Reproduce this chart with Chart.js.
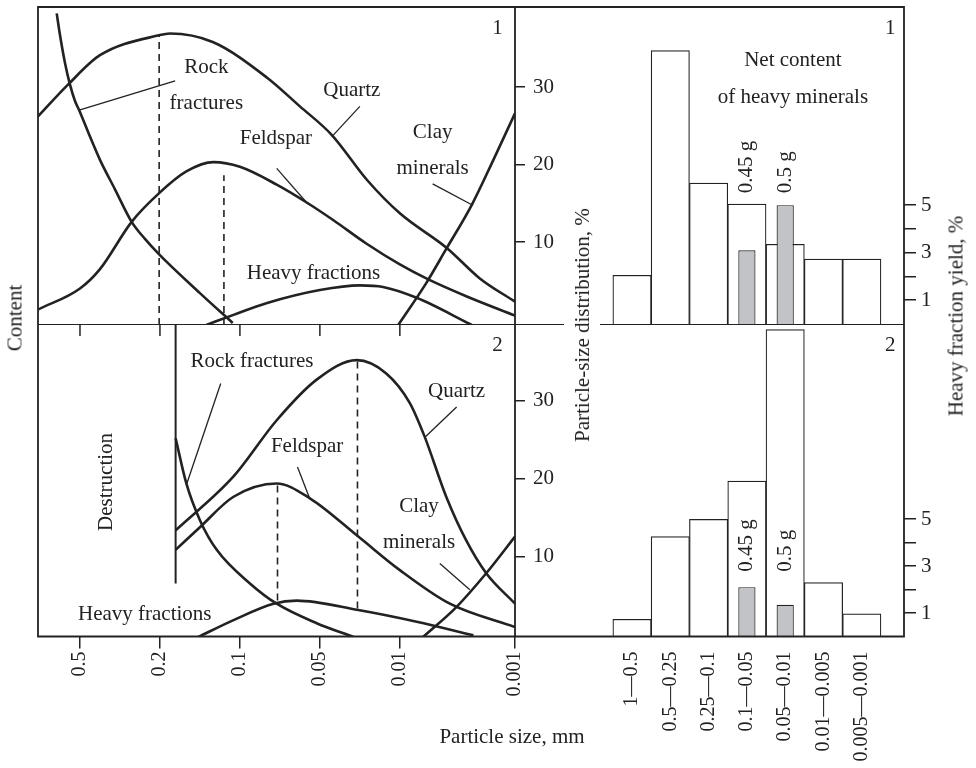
<!DOCTYPE html>
<html>
<head>
<meta charset="utf-8">
<script src="https://cdn.jsdelivr.net/npm/chart.js@4.4.1/dist/chart.umd.min.js"></script>
<style>
  body { margin: 0; background: #fff; }
  #fig { position: relative; width: 976px; height: 768px; overflow: hidden;
         font-family: "Liberation Serif", "Times New Roman", serif; color: #222; }
  canvas { position: absolute; }
  .lbl { position: absolute; white-space: nowrap; font-size: 21px; transform: translate(-50%, -50%); }
  .rot { transform: translate(-50%, -50%) rotate(-90deg); }
</style>
</head>
<body>
<div id="fig">
  <canvas id="tl" width="600" height="325" style="left:0;top:0"></canvas>
  <canvas id="bl" width="600" height="443" style="left:0;top:325px"></canvas>
  <canvas id="tr" width="461" height="325" style="left:515px;top:0"></canvas>
  <canvas id="br" width="461" height="443" style="left:515px;top:325px"></canvas>
  <div class="lbl rot" style="left:15px;top:318px">Content</div>
  <div class="lbl rot" style="left:582px;top:325px;background:#fff;line-height:36px">Particle-size distribution, %</div>
  <div class="lbl rot" style="left:956px;top:316px">Heavy fraction yield, %</div>
  <div class="lbl" style="left:512px;top:736px">Particle size, mm</div>
</div>
<script>
const ink = '#222';
const gray = '#c2c3c6';
Chart.defaults.font.family = '"Liberation Serif", "Times New Roman", serif';
Chart.defaults.font.size = 21;
Chart.defaults.color = ink;

// size axis of the curve panels: ticks are evenly spaced slots in the original
const sizeTickPos = [1, 2, 3, 4, 5, 6.44];
const sizeTickLabels = ['0.5', '0.2', '0.1', '0.05', '0.01', '0.001'];
const pctTicks = [10, 20, 30];
const yieldTicks = [1, 2, 3, 4, 5];

// panel 1 curves, [size slot, content]
const quartz1 = [[0.475, 26.2], [0.85, 30.3], [1.25, 34.1], [2.0, 36.7], [2.125, 36.9], [2.66, 35.8],
  [3.34, 31.2], [3.75, 27.5], [4.15, 23.8], [4.59, 18.0], [5.0, 13.7], [5.59, 9.2], [6.0, 5.3], [6.44, 2.3]];
const feldspar1 = [[0.479, 1.3], [1.0, 4.0], [1.25, 6.5], [1.646, 12.6], [1.99, 16.3], [2.33, 19.1],
  [2.67, 20.3], [3.0, 19.7], [3.46, 17.4], [3.85, 15.0], [4.17, 12.8], [4.58, 9.8], [5.0, 7.1],
  [5.33, 5.3], [5.83, 3.0], [6.44, 0.5]];
const rock1 = [[0.709, 39.5], [0.75, 36.7], [0.8125, 33.1], [0.875, 30.3], [0.9375, 28.2], [0.99, 27.0],
  [1.125, 23.6], [1.25, 20.6], [1.4375, 16.8], [1.646, 12.6], [1.8125, 10.4], [1.99, 8.4],
  [2.5, 3.4], [2.91, -0.45]];
const heavy1 = [[2.58, -0.7], [2.92, 0.6], [3.33, 2.1], [4.0, 3.8], [4.5, 4.4], [4.79, 4.2],
  [5.21, 2.8], [5.9, -0.7]];
const clay1 = [[4.98, -0.7], [5.33, 4.7], [5.58, 9.1], [5.9, 14.8], [6.17, 20.6], [6.44, 26.6]];
const modes1 = [[[1.99, -0.71], [1.99, 36.6]], [[2.8, -0.71], [2.8, 18.6]]];

// panel 2 curves
const quartz2 = [[2.196, 13.4], [2.92, 20.3], [3.46, 27.5], [3.96, 32.7], [4.46, 35.2], [4.83, 33.5],
  [5.125, 29.7], [5.31, 25.4], [5.58, 17.7], [5.83, 12.1], [6.08, 7.9], [6.44, 4.0]];
const feldspar2 = [[2.196, 10.9], [2.5, 13.8], [2.92, 17.7], [3.46, 19.4], [3.875, 17.5], [4.48, 12.6],
  [5.0, 8.3], [5.625, 4.0], [6.44, 1.0]];
const rock2 = [[2.196, 25.2], [2.33, 19.4], [2.5, 14.7], [2.71, 10.9], [3.125, 6.6], [3.46, 4.0],
  [3.96, 1.5], [4.42, -0.26]];
const heavy2 = [[2.48, -0.26], [2.92, 1.9], [3.42, 4.0], [3.71, 4.4], [4.48, 3.2], [5.21, 1.7], [5.92, -0.04]];
const clay2 = [[5.29, -0.26], [5.71, 3.6], [6.08, 7.9], [6.44, 12.6]];
const modes2 = [[[3.47, 4.4], [3.47, 19.2]], [[4.47, 3.4], [4.47, 35.0]]];
const destruction2 = [[2.196, 39.7], [2.196, 6.6]];

// histograms
const sizeBins = ['1—0.5', '0.5—0.25', '0.25—0.1', '0.1—0.05', '0.05—0.01', '0.01—0.005', '0.005—0.001'];
const dist1 = [5.7, 34.7, 17.6, 14.9, 9.7, 7.8, 7.8];
const yield1 = [null, null, null, 3.1, 5.0, null, null];
const dist2 = [2.0, 12.6, 14.8, 19.7, 39.1, 6.7, 2.7];
const yield2 = [null, null, null, 2.1, 1.35, null, null];
const massLabels = ['0.45 g', '0.5 g'];

// label leaders, in data units
const leaders1 = [[[0.99, 27.0], [2.19, 30.8]], [[4.5, 27.5], [4.15, 23.6]],
  [[3.46, 19.5], [3.85, 14.9]], [[5.41, 17.5], [5.9, 14.8]]];
const leaders2 = [[[2.76, 32.2], [2.33, 19.2]], [[5.71, 29.2], [5.31, 25.3]],
  [[3.72, 21.5], [3.875, 17.4]], [[5.5, 9.15], [5.875, 5.8]]];

function curve(points) {
  return { data: points, borderColor: ink, borderWidth: 2.6, pointRadius: 0,
           cubicInterpolationMode: 'monotone', fill: false };
}
function straight(points, dash, width) {
  return { data: points, borderColor: ink, borderWidth: width || 1.3, pointRadius: 0,
           tension: 0, borderDash: dash || [], fill: false };
}
function bars(values, axis, color, pct, base, order) {
  return {
    data: values.map((v, i) => ({ x: i + 1, y: v })).filter(p => p.y !== null),
    yAxisID: axis, backgroundColor: color, borderColor: ink, borderWidth: 1.2,
    barPercentage: pct, categoryPercentage: 1, grouped: false, base: base, order: order
  };
}

function frame(sides) {
  return {
    id: 'frame',
    afterDraw(chart) {
      const { ctx, chartArea: a } = chart;
      ctx.save();
      ctx.strokeStyle = ink;
      ctx.lineWidth = 1.8;
      ctx.lineCap = 'square';
      ctx.beginPath();
      if (sides.includes('top')) { ctx.moveTo(a.left, a.top); ctx.lineTo(a.right, a.top); }
      if (sides.includes('bottom')) { ctx.moveTo(a.left, a.bottom); ctx.lineTo(a.right, a.bottom); }
      if (sides.includes('left')) { ctx.moveTo(a.left, a.top); ctx.lineTo(a.left, a.bottom); }
      if (sides.includes('right')) { ctx.moveTo(a.right, a.top); ctx.lineTo(a.right, a.bottom); }
      ctx.stroke();
      ctx.restore();
    }
  };
}

function notes(items) {
  return {
    id: 'notes',
    afterDatasetsDraw(chart) {
      const ctx = chart.ctx;
      items.forEach(n => {
        const px = chart.scales[n.xAxis || 'x'].getPixelForValue(n.x);
        const py = chart.scales[n.yAxis || 'y'].getPixelForValue(n.y);
        ctx.save();
        ctx.font = '21px "Liberation Serif", "Times New Roman", serif';
        ctx.fillStyle = ink;
        ctx.translate(px, py);
        if (n.rotate) ctx.rotate(-Math.PI / 2);
        ctx.textAlign = n.align || 'center';
        ctx.textBaseline = 'middle';
        ctx.fillText(n.text, 0, 0);
        ctx.restore();
      });
    }
  };
}

// ticks of panel 2 that point down from the divider
const innerTicks = {
  id: 'innerTicks',
  afterDraw(chart) {
    const { ctx, chartArea: a, scales: { x } } = chart;
    ctx.save();
    ctx.strokeStyle = ink;
    ctx.lineWidth = 1.5;
    sizeTickPos.slice(0, 5).forEach(v => {
      const px = x.getPixelForValue(v);
      ctx.beginPath();
      ctx.moveTo(px, a.top);
      ctx.lineTo(px, a.top + 11);
      ctx.stroke();
    });
    ctx.restore();
  }
};

function pctAxis(min, max) {
  return {
    type: 'linear', position: 'right', min: min, max: max,
    afterBuildTicks: s => { s.ticks = pctTicks.map(v => ({ value: v })); },
    afterFit: s => { s.width = 85; s.paddingTop = 0; s.paddingBottom = 0; },
    grid: { drawOnChartArea: false, drawTicks: true, tickLength: 10, color: ink, lineWidth: 1.5 },
    border: { display: false },
    ticks: { color: ink, padding: 8, font: { size: 21 } }
  };
}
function yieldAxis(min, max) {
  return {
    type: 'linear', position: 'right', min: min, max: max,
    afterBuildTicks: s => { s.ticks = yieldTicks.map(v => ({ value: v })); },
    afterFit: s => { s.width = 72; s.paddingTop = 0; s.paddingBottom = 0; },
    grid: { drawOnChartArea: false, drawTicks: true, tickLength: 12, color: ink, lineWidth: 1.5 },
    border: { display: false },
    ticks: { color: ink, padding: 5, font: { size: 21 }, callback: v => (v % 2 ? String(v) : '') }
  };
}
function binAxis(visible) {
  const ax = {
    type: 'linear', offset: false, min: -2.055, max: 8.102, display: visible,
    afterBuildTicks: s => { s.ticks = sizeBins.map((b, i) => ({ value: i + 1 })); }
  };
  if (visible) {
    ax.afterFit = s => { s.height = 131.5; s.paddingLeft = 0; s.paddingRight = 0; };
    ax.grid = { display: false, drawTicks: false };
    ax.border = { display: false };
    ax.ticks = { autoSkip: false, minRotation: 90, maxRotation: 90, padding: 15,
                 font: { size: 20 }, color: ink, callback: (v, i) => sizeBins[i] };
  }
  return ax;
}

const common = {
  responsive: false, animation: false, events: [],
  plugins: { legend: { display: false }, tooltip: { enabled: false } }
};

// panel 1, curves
new Chart(document.getElementById('tl'), {
  type: 'line',
  data: { datasets: [
    curve(quartz1), curve(feldspar1), curve(rock1), curve(heavy1), curve(clay1),
    ...modes1.map(m => straight(m, [7, 5], 1.6)),
    ...leaders1.map(l => straight(l))
  ] },
  options: Object.assign({}, common, {
    layout: { padding: { left: 38, top: 7, right: 0, bottom: 0 } },
    scales: {
      x: { type: 'linear', display: false, min: 0.475, max: 6.44 },
      y: pctAxis(-0.71, 40.32)
    }
  }),
  plugins: [frame(['top', 'bottom', 'left', 'right']), notes([
    { text: '1', x: 6.22, y: 37.6 },
    { text: 'Rock', x: 2.58, y: 32.5 },
    { text: 'fractures', x: 2.58, y: 27.9 },
    { text: 'Quartz', x: 4.4, y: 29.6 },
    { text: 'Feldspar', x: 3.45, y: 23.3 },
    { text: 'Clay', x: 5.41, y: 24.1 },
    { text: 'minerals', x: 5.41, y: 19.5 },
    { text: 'Heavy fractions', x: 3.92, y: 6.0 }
  ])]
});

// panel 2, curves
new Chart(document.getElementById('bl'), {
  type: 'line',
  data: { datasets: [
    curve(quartz2), curve(feldspar2), curve(rock2), curve(heavy2), curve(clay2),
    straight(destruction2, [], 2),
    ...modes2.map(m => straight(m, [7, 5], 1.6)),
    ...leaders2.map(l => straight(l))
  ] },
  options: Object.assign({}, common, {
    layout: { padding: { left: 38, top: 0, right: 0, bottom: 0 } },
    scales: {
      x: {
        type: 'linear', min: 0.475, max: 6.44,
        afterBuildTicks: s => { s.ticks = sizeTickPos.map(v => ({ value: v })); },
        afterFit: s => { s.height = 131.5; s.paddingLeft = 0; s.paddingRight = 0; },
        grid: { drawOnChartArea: false, tickLength: 12, color: ink, lineWidth: 1.5 },
        border: { display: false },
        ticks: { autoSkip: false, minRotation: 90, maxRotation: 90, padding: 3,
                 font: { size: 20 }, color: ink, callback: (v, i) => sizeTickLabels[i] }
      },
      y: pctAxis(-0.2, 39.7)
    }
  }),
  plugins: [frame(['bottom', 'left', 'right']), innerTicks, notes([
    { text: '2', x: 6.22, y: 37.1 },
    { text: 'Rock fractures', x: 3.15, y: 35.0 },
    { text: 'Quartz', x: 5.71, y: 31.2 },
    { text: 'Feldspar', x: 3.84, y: 24.1 },
    { text: 'Clay', x: 5.24, y: 16.4 },
    { text: 'minerals', x: 5.24, y: 11.8 },
    { text: 'Heavy fractions', x: 1.81, y: 2.65 },
    { text: 'Destruction', x: 1.33, y: 19.6, rotate: true }
  ])]
});

// panel 1, histogram
new Chart(document.getElementById('tr'), {
  type: 'bar',
  data: { datasets: [
    bars(yield1, 'yh', gray, 0.45, -0.055, 0),
    bars(dist1, 'yp', '#fff', 1, -0.71, 1)
  ] },
  options: Object.assign({}, common, {
    layout: { padding: { left: 0, top: 7, right: 0, bottom: 0 } },
    scales: {
      x: binAxis(false),
      yp: { type: 'linear', display: false, min: -0.71, max: 40.32 },
      yh: yieldAxis(-0.055, 13.36)
    }
  }),
  plugins: [frame(['top', 'bottom', 'right']), notes([
    { text: '1', x: 7.74, y: 37.6, yAxis: 'yp' },
    { text: 'Net content', x: 5.2, y: 33.4, yAxis: 'yp' },
    { text: 'of heavy minerals', x: 5.2, y: 28.6, yAxis: 'yp' },
    { text: massLabels[0], x: 4, y: 5.5, yAxis: 'yh', rotate: true, align: 'left' },
    { text: massLabels[1], x: 5, y: 5.5, yAxis: 'yh', rotate: true, align: 'left' }
  ])]
});

// panel 2, histogram
new Chart(document.getElementById('br'), {
  type: 'bar',
  data: { datasets: [
    bars(yield2, 'yh', gray, 0.45, 0, 0),
    bars(dist2, 'yp', '#fff', 1, -0.2, 1)
  ] },
  options: Object.assign({}, common, {
    layout: { padding: { left: 0, top: 0, right: 0, bottom: 0 } },
    scales: {
      x: binAxis(true),
      yp: { type: 'linear', display: false, min: -0.2, max: 39.7 },
      yh: yieldAxis(0, 13.26)
    }
  }),
  plugins: [frame(['bottom', 'right']), notes([
    { text: '2', x: 7.74, y: 37.1, yAxis: 'yp' },
    { text: massLabels[0], x: 4, y: 2.76, yAxis: 'yh', rotate: true, align: 'left' },
    { text: massLabels[1], x: 5, y: 2.76, yAxis: 'yh', rotate: true, align: 'left' }
  ])]
});
</script>
</body>
</html>
